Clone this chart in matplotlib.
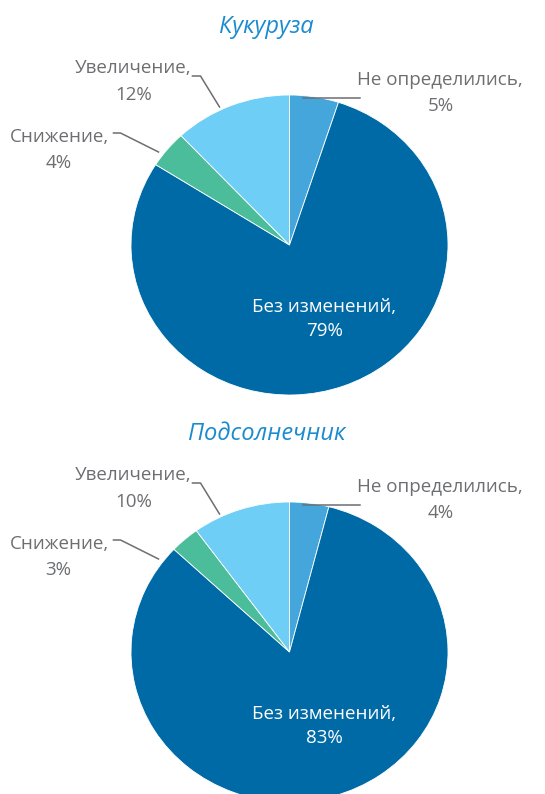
import numpy as np
import matplotlib
matplotlib.use('Agg')
import matplotlib.pyplot as plt

plt.rcParams['font.family'] = ['Open Sans', 'DejaVu Sans']

# data
categories = ['Не определились', 'Без изменений', 'Снижение', 'Увеличение']
colors     = ['#45a6dc', '#006aa6', '#4bbd9b', '#6fcef5']
corn       = [5, 79, 4, 12]
sunflower  = [4, 83, 3, 10]
titles     = ['Кукуруза', 'Подсолнечник']

W, H = 545, 794
fig = plt.figure(figsize=(W/100, H/100), dpi=100)

gray = '#6d6e71'
blue_title = '#1b8bd0'
fs = 13.5

def fx(px):
    return px / W

def fy(py):
    return 1 - py / H

# label layout, pixel offsets from the pie centre:
# (text centre, percent centre, leader polyline)
layout = {
    0: ((150, -165), (151, -139), [(70, -147), (13, -147)]),
    3: ((-156, -177), (-156, -150), [(-97, -169), (-89, -169), (-70, -138)]),
    2: ((-230, -108), (-231, -82), [(-176, -112), (-169, -112), (-131, -93)]),
    1: ((35, 62), (35, 86), None),
}

def draw_pie(vals, title, cy):
    cx, rx, ry = 289.5, 158.5, 150.0      # pie centre / radii in pixels
    ax = fig.add_axes([fx(cx - rx), fy(cy + ry), 2*rx/W, 2*ry/H])
    ax.pie(vals, colors=colors, startangle=90, counterclock=False,
           wedgeprops=dict(edgecolor='white', linewidth=0.6))
    ax.set_aspect('auto')
    ax.set_xlim(-1, 1)
    ax.set_ylim(-1, 1)
    ax.axis('off')

    # title
    fig.text(fx(cx - 23), fy(cy - 218), title, ha='center', va='center',
             fontsize=17, color=blue_title, style='italic')

    for i, (t, p, line) in layout.items():
        c = 'white' if i == 1 else gray
        fig.text(fx(cx + t[0]), fy(cy + t[1]), categories[i] + ',',
                 ha='center', va='center', fontsize=fs, color=c)
        fig.text(fx(cx + p[0]), fy(cy + p[1]), '%d%%' % vals[i],
                 ha='center', va='center', fontsize=fs, color=c)
        if line:
            xs = [dx / rx for dx, dy in line]
            ys = [-dy / ry for dx, dy in line]
            ax.plot(xs, ys, color=gray, lw=1.1, clip_on=False)

draw_pie(corn, titles[0], 245)
draw_pie(sunflower, titles[1], 652)

fig.savefig('out.png', dpi=100)
